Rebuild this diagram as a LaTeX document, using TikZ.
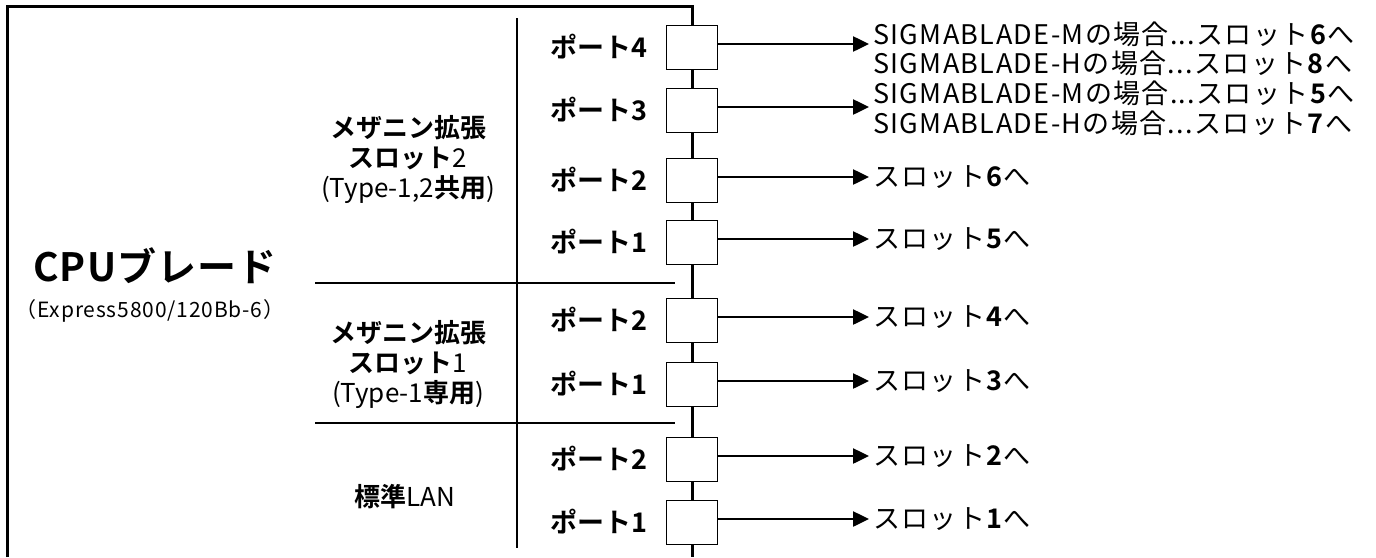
\documentclass[tikz,border=0pt]{standalone}
\usepackage{fontspec}
\setmainfont{Noto Sans CJK JP}[BoldFont={Noto Sans CJK JP Bold}]
\newfontfamily\widefont{Noto Sans CJK JP}[BoldFont={Noto Sans CJK JP Bold},LetterSpace=5]
\newfontfamily\titlefont{Noto Sans CJK JP Bold}[LetterSpace=3]
\newfontfamily\modelfont{Noto Sans CJK JP}[LetterSpace=4]
\usetikzlibrary{arrows.meta,positioning}

\begin{document}
\begin{tikzpicture}[x=1pt,y=-1pt,
    bus/.style={line width=3pt},
    divider/.style={line width=1.2pt},
    portbox/.style={draw,line width=1pt,fill=white,minimum width=51pt,minimum height=44pt,inner sep=0pt},
    portlbl/.style={font=\fontsize{27}{30}\selectfont\bfseries,inner sep=0pt},
    grplbl/.style={font=\fontsize{26}{30}\selectfont,align=center,inner sep=0pt},
    dest/.style={font=\widefont\fontsize{27}{30}\selectfont,anchor=west,inner sep=0pt},
    arr/.style={line width=2.5pt,-{Triangle[length=16pt,width=15pt]}}]
    \useasboundingbox (0,0) rectangle (1376,557);

    % blade frame and port bus
    \draw[bus] (7,557) -- (7,6) -- (692,6) -- (692,557);

    % group dividers
    \draw[divider] (517,18) -- (517,548);
    \draw[divider] (315,283) -- (675,283);
    \draw[divider] (315,423) -- (675,423);

    % blade name
    \node[font=\titlefont\fontsize{39}{42}\selectfont,inner sep=0pt] (cpu) at (155,266) {CPUブレード};
    \node[font=\modelfont\fontsize{21}{24}\selectfont,inner sep=0pt] (model) at (150,311) {（Express5800/120Bb-6）};

    % slot groups
    \node[grplbl] (mez2) at (408,160) {\textbf{メザニン拡張}\\\textbf{スロット}2\\(Type-1,2\textbf{共用})};
    \node[grplbl] (mez1) at (408,364) {\textbf{メザニン拡張}\\\textbf{スロット}1\\(Type-1\textbf{専用})};
    \node[grplbl] (lan) at (405,497) {\textbf{標準}LAN};

    % ports on the bus
    \node[portbox] (m2p4) at (692,47) {};
    \node[portbox] (m2p3) at (692,110) {};
    \node[portbox] (m2p2) at (692,180) {};
    \node[portbox] (m2p1) at (692,242) {};
    \node[portbox] (m1p2) at (692,320) {};
    \node[portbox] (m1p1) at (692,384) {};
    \node[portbox] (lanp2) at (692,459) {};
    \node[portbox] (lanp1) at (692,522) {};

    \node[portlbl,left=18pt of m2p4] {ポート4};
    \node[portlbl,left=18pt of m2p3] {ポート3};
    \node[portlbl,left=18pt of m2p2] {ポート2};
    \node[portlbl,left=18pt of m2p1] {ポート1};
    \node[portlbl,left=18pt of m1p2] {ポート2};
    \node[portlbl,left=18pt of m1p1] {ポート1};
    \node[portlbl,left=18pt of lanp2] {ポート2};
    \node[portlbl,left=18pt of lanp1] {ポート1};

    % arrow tips
    \coordinate (m2e4) at (869,44);
    \coordinate (m2e3) at (869,107);
    \coordinate (m2e2) at (869,177);
    \coordinate (m2e1) at (869,239);
    \coordinate (m1e2) at (869,317);
    \coordinate (m1e1) at (869,381);
    \coordinate (lane2) at (869,456);
    \coordinate (lane1) at (869,519);

    \draw[arr] (m2p4.east |- m2e4) -- (m2e4);
    \draw[arr] (m2p3.east |- m2e3) -- (m2e3);
    \draw[arr] (m2p2.east |- m2e2) -- (m2e2);
    \draw[arr] (m2p1.east |- m2e1) -- (m2e1);
    \draw[arr] (m1p2.east |- m1e2) -- (m1e2);
    \draw[arr] (m1p1.east |- m1e1) -- (m1e1);
    \draw[arr] (lanp2.east |- lane2) -- (lane2);
    \draw[arr] (lanp1.east |- lane1) -- (lane1);

    % destinations
    \node[dest] (m2d4a) at (873,34) {SIGMABLADE-Mの場合...スロット\textbf{6}へ};
    \node[dest] (m2d4b) at (873,63) {SIGMABLADE-Hの場合...スロット\textbf{8}へ};
    \node[dest] (m2d3a) at (873,93) {SIGMABLADE-Mの場合...スロット\textbf{5}へ};
    \node[dest] (m2d3b) at (873,123) {SIGMABLADE-Hの場合...スロット\textbf{7}へ};
    \node[dest,right=4pt of m2e2] (m2d2) {スロット\textbf{6}へ};
    \node[dest,right=4pt of m2e1] (m2d1) {スロット\textbf{5}へ};
    \node[dest,right=4pt of m1e2] (m1d2) {スロット\textbf{4}へ};
    \node[dest,right=4pt of m1e1] (m1d1) {スロット\textbf{3}へ};
    \node[dest,right=4pt of lane2] (land2) {スロット\textbf{2}へ};
    \node[dest,right=4pt of lane1] (land1) {スロット\textbf{1}へ};
\end{tikzpicture}
\end{document}
